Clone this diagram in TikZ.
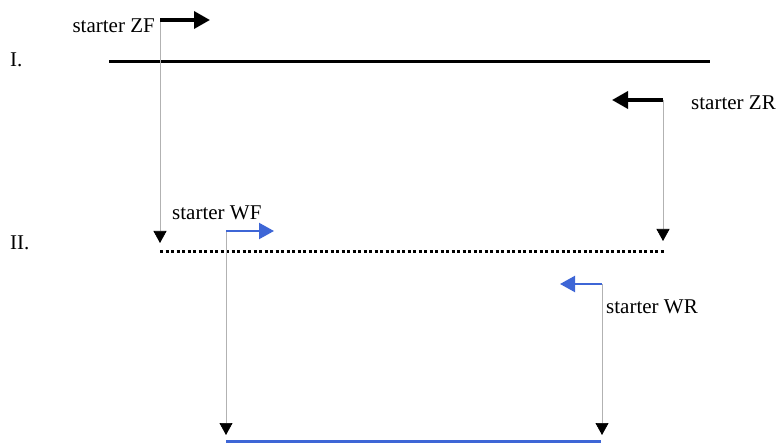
\documentclass[tikz,border=0pt]{standalone}
\usepackage{fontspec}
\setmainfont{Liberation Serif}
\usetikzlibrary{arrows.meta}
\definecolor{wblue}{RGB}{62,102,214}
\tikzset{
  lbl/.style={inner sep=0pt,font=\fontsize{21}{24}\selectfont},
  guide/.style={draw=gray!60,line width=0.7pt,-{Triangle[width=13pt,length=12pt,color=black]}},
  zarr/.style={line width=3.5pt,-{Triangle[width=17pt,length=16pt]}},
  warr/.style={wblue,line width=2.2pt,-{Triangle[width=16pt,length=15pt]}}
}
\begin{document}
\begin{tikzpicture}[x=1pt,y=-1pt]
  \useasboundingbox (0,0) rectangle (783,443);
  \node[lbl,anchor=west] (I) at (10,60) {I.};
  \node[lbl,anchor=west] (II) at (10,243) {II.};
  \coordinate (a1) at (109,62); \coordinate (a2) at (710,62);
  \coordinate (b1) at (160,252); \coordinate (b2) at (664,252);
  \coordinate (c1) at (226,441); \coordinate (c2) at (601,441);
  \coordinate (zf) at (160,20); \coordinate (zfh) at (210,20);
  \coordinate (zr) at (663,100); \coordinate (zrh) at (612,100);
  \coordinate (wf) at (226,231); \coordinate (wfh) at (274,231);
  \coordinate (wr) at (602,284); \coordinate (wrh) at (560,284);
  \node[lbl,anchor=east] (ZF) at (155,26) {starter ZF};
  \node[lbl,anchor=west] (ZR) at (691,103) {starter ZR};
  \node[lbl,anchor=west] (WF) at (172,213) {starter WF};
  \node[lbl,anchor=west] (WR) at (606,307) {starter WR};
  % templates
  \draw[line width=3pt] (a1)--(a2);
  \draw[line width=3pt,dash pattern=on 3pt off 2.5pt] (b1)--(b2);
  \draw[wblue,line width=3pt] (c1)--(c2);
  % guides down to the products
  \draw[guide] (zf)--(zf|-0,243);
  \draw[guide] (zr)--(zr|-0,241);
  \draw[guide] (wf)--(wf|-0,435);
  \draw[guide] (wr)--(wr|-0,435);
  % primers
  \draw[zarr] (zf)--(zfh);
  \draw[zarr] (zr)--(zrh);
  \draw[warr] (wf)--(wfh);
  \draw[warr] (wr)--(wrh);
\end{tikzpicture}
\end{document}
